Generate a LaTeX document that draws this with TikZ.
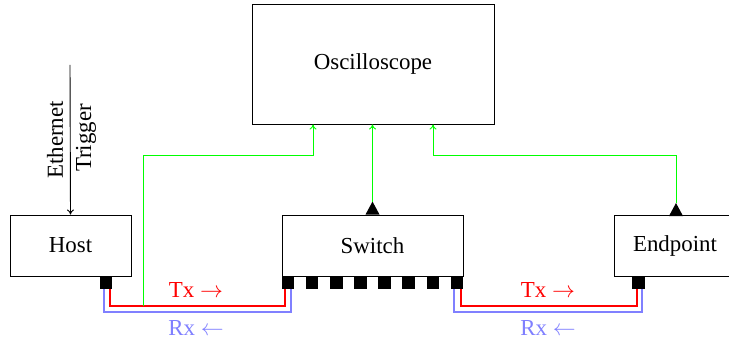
\documentclass[tikz,border=0pt]{standalone}
\usepackage{fontspec}
\setmainfont{Liberation Serif}
\usetikzlibrary{calc,arrows.meta}
\begin{document}
\begin{tikzpicture}[x=0.4367pt,y=-0.4367pt,
  box/.style={draw=black,line width=0.4pt,minimum width=#1,minimum height=61*0.4367pt,inner sep=0pt,font=\fontsize{10}{12}\selectfont},
  port/.style={fill=black,minimum width=12.5*0.4367pt,minimum height=12.5*0.4367pt,inner sep=0pt,anchor=north},
  tri/.style={fill=black},
  sig/.style={draw={rgb,255:red,0;green,255;blue,0},line width=0.4pt,-{To[length=2.2pt,width=3pt]}},
  txline/.style={draw=red,line width=0.8pt},
  rxline/.style={draw=blue!50,line width=0.8pt},
  txlab/.style={text=red,font=\fontsize{10}{12}\selectfont},
  rxlab/.style={text=blue!50,font=\fontsize{10}{12}\selectfont},
  vlab/.style={rotate=90,font=\fontsize{10}{12}\selectfont}]
\clip (0,0) rectangle (729,345);
\useasboundingbox (0,0) rectangle (729,345);
% boxes
\node[box=242*0.4367pt,minimum height=120*0.4367pt] (osc) at (373,64) {Oscilloscope};
\node[box=121*0.4367pt] (host) at (70.5,245.5) {Host};
\node[box=181*0.4367pt] (sw) at (372.5,245.5) {Switch};
\node[box=122*0.4367pt] (ep) at (675,245.5) {Endpoint};
% ports
\node[port] (hp) at (106,276) {};
\foreach \i in {0,...,7}{
  \node[port] (sp\i) at ({288+24.14*\i},276) {};
}
\node[port] (ep1) at (638.5,276) {};
% triangles
\coordinate (swt) at ($(sw.north)+(0,-13)$);
\fill[tri] ($(sw.north)+(-7,0)$) -- (swt) -- ($(sw.north)+(7,0)$) -- cycle;
\coordinate (ept) at (676,203);
\fill[tri] (669,216) -- (ept) -- (683,216) -- cycle;
% levels
\coordinate (ytx) at (0,306);
\coordinate (yrx) at (0,312);
% cable ends
\coordinate (hr) at ($(hp.south)+(-2,0)$);
\coordinate (ht) at ($(hp.south)+(4,0)$);
\coordinate (s0r) at ($(sp0.south)+(3,0)$);
\coordinate (s0t) at ($(sp0.south)+(-3,0)$);
\coordinate (s7r) at ($(sp7.south)+(-3,0)$);
\coordinate (s7t) at ($(sp7.south)+(4,0)$);
\coordinate (er) at ($(ep1.south)+(3.5,0)$);
\coordinate (et) at ($(ep1.south)+(-1.5,0)$);
% cables host - switch
\draw[rxline] (hr) -- (hr |- yrx) -- (s0r |- yrx) -- (s0r);
\draw[txline] (ht) -- (ht |- ytx) -- (s0t |- ytx) -- (s0t);
% cables switch - endpoint
\draw[rxline] (s7r) -- (s7r |- yrx) -- (er |- yrx) -- (er);
\draw[txline] (s7t) -- (s7t |- ytx) -- (et |- ytx) -- (et);
% labels
\node[txlab] (tx1) at (196,290) {Tx $\rightarrow$};
\node[rxlab] (rx1) at (196,328) {Rx $\leftarrow$};
\node[txlab] (tx2) at (548,290) {Tx $\rightarrow$};
\node[rxlab] (rx2) at (548,328) {Rx $\leftarrow$};
% green signals
\coordinate (htap) at (143,305.5);
\draw[sig] (htap) |- (313,155) -- (313,124.5);
\draw[sig] (swt) -- (sw.north |- osc.south);
\draw[sig] (ept) |- (433,155) -- (433,124.5);
% ethernet trigger
\coordinate (trig) at (70,65);
\draw[line width=0.4pt,-{To[length=2.2pt,width=3pt]}] (trig) -- (host.north);
\node[vlab] (eth) at (55,140) {Ethernet};
\node[vlab] (trg) at (86,138) {Trigger};
\end{tikzpicture}
\end{document}
